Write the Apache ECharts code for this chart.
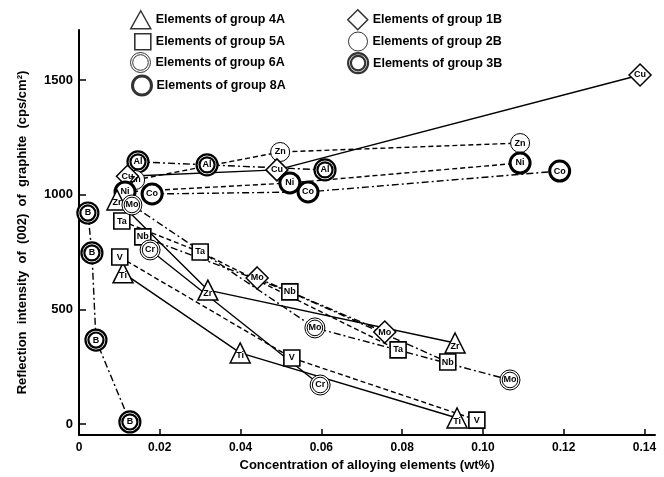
<!DOCTYPE html>
<html><head><meta charset="utf-8">
<script src="https://cdn.jsdelivr.net/npm/echarts@6/dist/echarts.min.js"></script>
<style>html,body{margin:0;padding:0;background:#fff}#c{width:664px;height:477px}</style>
</head><body><div id="c"></div>
<script>
// tick labels
const xTicks = [0, 0.02, 0.04, 0.06, 0.08, 0.10, 0.12, 0.14];
const yTicks = [0, 500, 1000, 1500];
// [concentration (wt%), reflection intensity (cps/cm2)]
const dataB  = [[0.0022, 920], [0.0032, 746], [0.0042, 366], [0.0126, 9]];
const dataAl = [[0.0146, 1143], [0.0317, 1130], [0.0609, 1108]];
const dataZn = [[0.0139, 1064], [0.0498, 1186], [0.1092, 1225]];
const dataCu = [[0.0120, 1080], [0.0490, 1108], [0.1389, 1522]];
const dataNi = [[0.0114, 1012], [0.0522, 1051], [0.1092, 1138]];
const dataCo = [[0.0181, 1003], [0.0567, 1012], [0.1190, 1103]];
const dataZr = [[0.0094, 977], [0.0319, 584], [0.0931, 353]];
const dataTi = [[0.0109, 659], [0.0399, 310], [0.0936, 26]];
const dataV  = [[0.0101, 728], [0.0527, 288], [0.0985, 17]];
const dataTa = [[0.0106, 885], [0.0300, 750], [0.0790, 323]];
const dataNb = [[0.0158, 816], [0.0522, 576], [0.0913, 270]];
const dataMo = [[0.0131, 955], [0.0584, 419], [0.1067, 192]];
const dataCr = [[0.0176, 759], [0.0597, 170]];
const dataMo2 = [[0.0441, 637], [0.0757, 401]];

const groupNames = {
  '4A': 'Elements of group 4A', '5A': 'Elements of group 5A', '6A': 'Elements of group 6A',
  '8A': 'Elements of group 8A', '1B': 'Elements of group 1B', '2B': 'Elements of group 2B',
  '3B': 'Elements of group 3B'
};

const dbl = (ri) => 'path://M10,0A10,10,0,1,1,-10,0A10,10,0,1,1,10,0ZM' + ri + ',0A' + ri + ',' + ri + ',0,1,1,-' + ri + ',0A' + ri + ',' + ri + ',0,1,1,' + ri + ',0Z';
const groupStyle = {
  '4A': {symbol: 'triangle', size: 20, bw: 1.5, lw: 20, lh: 18},
  '5A': {symbol: 'rect', size: 16, bw: 1.6, lw: 16, lh: 16},
  '6A': {symbol: dbl(7.8), size: 20, bw: 1, lw: 20, lh: 20},
  '8A': {symbol: 'circle', size: 20, bw: 3, lw: 19, lh: 19},
  '1B': {symbol: 'diamond', size: 22, bw: 1.5, lw: 20, lh: 20},
  '2B': {symbol: 'circle', size: 19, bw: 1, lw: 19, lh: 19},
  '3B': {symbol: dbl(7.2), size: 21, bw: 2.2, lw: 20, lh: 20}
};
const DASH = [5, 3];
const DASHDOT = [7, 3, 2, 3];
const elems = [
  {label: 'B',  data: dataB,  g: '3B', line: DASHDOT},
  {label: 'Al', data: dataAl, g: '3B', line: DASHDOT},
  {label: 'Zn', data: dataZn, g: '2B', line: DASH},
  {label: 'Cu', data: dataCu, g: '1B', line: 'solid'},
  {label: 'Ni', data: dataNi, g: '8A', line: DASH},
  {label: 'Co', data: dataCo, g: '8A', line: DASHDOT},
  {label: 'Zr', data: dataZr, g: '4A', line: 'solid'},
  {label: 'Ti', data: dataTi, g: '4A', line: 'solid'},
  {label: 'V',  data: dataV,  g: '5A', line: DASH},
  {label: 'Ta', data: dataTa, g: '5A', line: DASH},
  {label: 'Nb', data: dataNb, g: '5A', line: DASHDOT},
  {label: 'Mo', data: dataMo, g: '6A', line: DASHDOT},
  {label: 'Cr', data: dataCr, g: '6A', line: 'solid'},
  {label: 'Mo', data: dataMo2, g: '1B', line: DASHDOT}
];

const FONT = 'Liberation Sans';
const series = [];
elems.forEach(e => {
  series.push({
    type: 'line', name: e.label + '-line', data: e.data, symbol: 'none', z: 2,
    lineStyle: {color: '#000', width: 1.4, type: e.line}, silent: true
  });
});
elems.forEach(e => {
  const st = groupStyle[e.g];
  series.push({
    type: 'scatter', name: e.label, data: e.data, z: 4,
    symbol: st.symbol, symbolSize: st.size,
    itemStyle: {color: '#fff', borderColor: '#000', borderWidth: st.bw, opacity: 1},
    label: {show: true, position: 'inside', formatter: e.label, color: '#000',
      fontFamily: FONT, fontWeight: 'bold', fontSize: 9,
      offset: e.g === '4A' ? [0, 3] : [0, 0]}
  });
});
Object.keys(groupNames).forEach(k => {
  const st = groupStyle[k];
  series.push({
    type: 'scatter', name: groupNames[k], data: [], symbol: st.symbol,
    itemStyle: {color: '#fff', borderColor: '#000', borderWidth: st.bw}
  });
});

// legend layout: [group, text start x, row centre y]
const legendPos = [['4A', 155, 20], ['5A', 155, 42], ['6A', 155, 63], ['8A', 155, 85],
                   ['1B', 372, 20], ['2B', 372, 42], ['3B', 372, 63]];
const legends = legendPos.map(([k, tx, cy]) => {
  const st = groupStyle[k];
  return {
    orient: 'vertical', left: tx - 5 - st.lw, top: cy - st.lh / 2 - 1,
    itemWidth: st.lw, itemHeight: st.lh, padding: 0, selectedMode: false,
    textStyle: {fontFamily: FONT, fontWeight: 'bold', fontSize: 12.5, color: '#000'},
    data: [{name: groupNames[k], icon: st.symbol,
      itemStyle: {color: '#fff', borderColor: '#000', borderWidth: st.bw}}]
  };
});

const chart = echarts.init(document.getElementById('c'), null, {renderer: 'canvas'});
chart.setOption({
  animation: false,
  backgroundColor: '#fff',
  grid: {left: 79, right: 9, top: 30, bottom: 42, containLabel: false},
  legend: legends,
  xAxis: {
    type: 'value', min: 0, max: 0.1426,
    name: 'Concentration of alloying elements (wt%)', nameLocation: 'middle', nameGap: 24,
    nameTextStyle: {fontFamily: FONT, fontWeight: 'bold', fontSize: 13, color: '#000'},
    axisLine: {onZero: false, lineStyle: {color: '#000', width: 2}},
    axisTick: {inside: true, length: 6, lineStyle: {width: 1.5, color: '#000'}, customValues: xTicks},
    axisLabel: {customValues: xTicks, margin: 7, color: '#000', fontFamily: FONT, fontWeight: 'bold', fontSize: 12,
      formatter: v => v === 0 ? '0' : v.toFixed(2)},
    splitLine: {show: false}
  },
  yAxis: {
    type: 'value', min: -48, max: 1718,
    name: 'Reflection  intensity  of  (002)  of  graphite  (cps/cm²)', nameLocation: 'middle', nameGap: 50,
    nameTextStyle: {fontFamily: FONT, fontWeight: 'bold', fontSize: 13, color: '#000'},
    axisLine: {onZero: false, lineStyle: {color: '#000', width: 2}},
    axisTick: {inside: true, length: 7, lineStyle: {width: 1.5, color: '#000'}, customValues: yTicks},
    axisLabel: {customValues: yTicks, margin: 6, color: '#000', fontFamily: FONT, fontWeight: 'bold', fontSize: 13,
      formatter: v => String(v)},
    splitLine: {show: false}
  },
  series: series
});
</script></body></html>
